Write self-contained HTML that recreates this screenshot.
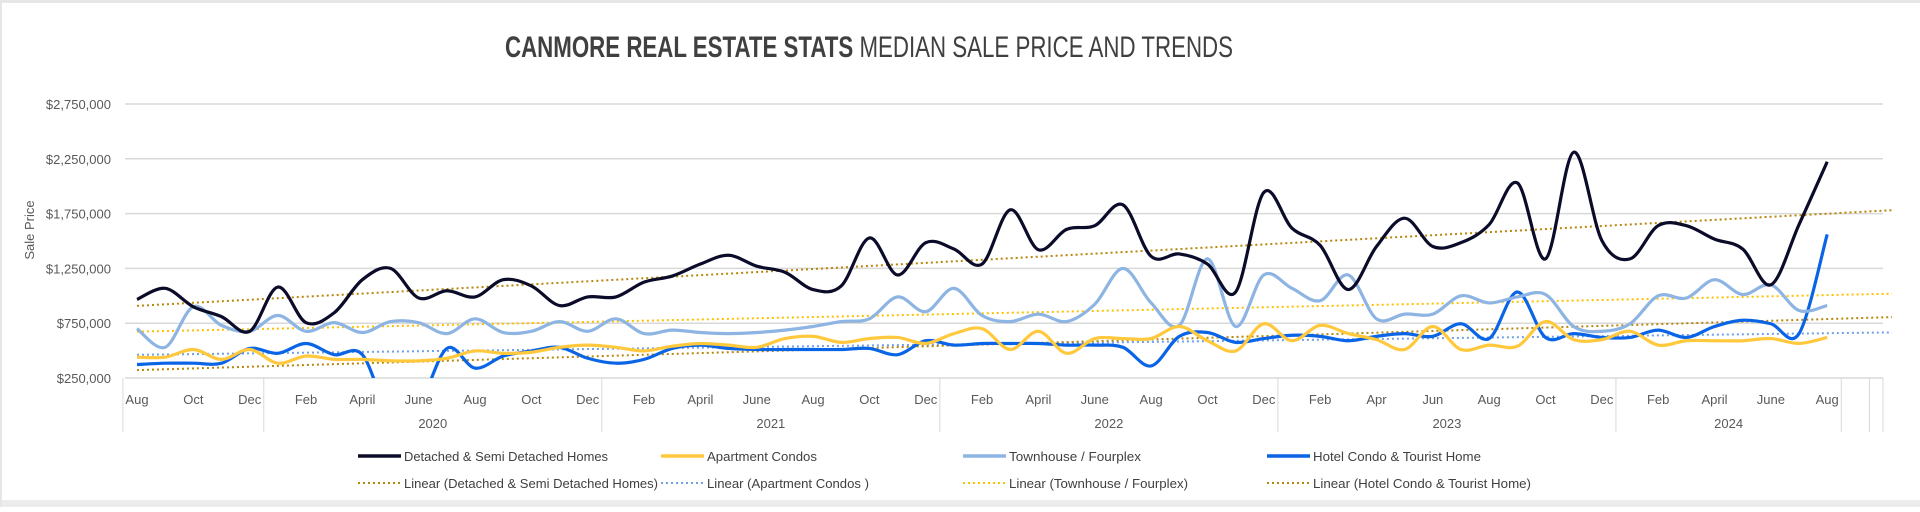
<!DOCTYPE html>
<html><head><meta charset="utf-8">
<style>
html,body{margin:0;padding:0;background:#fff;}
body{width:1920px;height:507px;overflow:hidden;font-family:"Liberation Sans",sans-serif;}
svg text{font-family:"Liberation Sans",sans-serif;}
</style></head>
<body>
<svg id="chart" width="1920" height="507" viewBox="0 0 1920 507" xmlns="http://www.w3.org/2000/svg">
<rect x="0" y="0" width="1920" height="507" fill="#fff"/>
<rect x="0" y="0" width="1920" height="3" fill="#e6e6e6"/>
<rect x="0" y="500" width="1920" height="7" fill="#ececec"/>
<rect x="0" y="0" width="2" height="507" fill="#e6e6e6"/>
<text x="869" y="57" text-anchor="middle" font-size="30" fill="#404040" textLength="728" lengthAdjust="spacingAndGlyphs"><tspan font-weight="bold">CANMORE REAL ESTATE STATS</tspan> MEDIAN SALE PRICE AND TRENDS</text>
<text transform="translate(34,230) rotate(-90)" text-anchor="middle" font-size="13" fill="#595959">Sale Price</text>
<g id="grid"></g><g id="yticks"></g><g id="xaxis"></g><g id="trends"></g><g id="series"></g><g id="legend"></g>
</svg>
<script>
const months = ["Aug","","Oct","","Dec","","Feb","","April","","June","","Aug","","Oct","","Dec","","Feb","","April","","June","","Aug","","Oct","","Dec","","Feb","","April","","June","","Aug","","Oct","","Dec","","Feb","","Apr","","Jun","","Aug","","Oct","","Dec","","Feb","","April","","June","","Aug"];
const years = ["2020","2021","2022","2023","2024"];
const yearCenters = [10.5,22.5,34.5,46.5,56.5];
const dividers = [-0.5,4.5,16.5,28.5,40.5,52.5,60.5,61.5];
const yTicks = [250000,750000,1250000,1750000,2250000,2750000];
const yTickLabels = ["$250,000","$750,000","$1,250,000","$1,750,000","$2,250,000","$2,750,000"];
const detached = [967,1068,900,810,676,1080,755,845,1147,1250,980,1046,990,1147,1090,911,990,990,1125,1180,1290,1370,1270,1215,1057,1090,1528,1190,1485,1427,1290,1785,1420,1606,1640,1830,1360,1382,1290,1035,1943,1617,1460,1057,1450,1708,1450,1485,1650,2030,1337,2310,1505,1337,1640,1640,1517,1427,1100,1650,2223];
const apartment = [440,440,510,420,510,385,450,420,420,407,407,430,497,475,485,530,550,530,497,540,565,550,530,610,630,575,610,620,565,655,700,510,676,475,610,610,610,720,590,497,745,590,730,655,600,510,720,510,550,540,765,600,600,676,550,590,590,590,610,565,620];
const townhouse = [700,530,900,730,676,820,676,755,665,765,755,655,790,665,676,765,676,790,655,687,665,655,665,687,720,765,790,990,855,1068,820,765,833,765,923,1250,935,730,1337,720,1190,1068,955,1190,790,833,833,1000,935,990,1012,720,676,745,1000,980,1147,1012,1100,866,911];
const hotel = [373,385,385,385,520,475,565,463,463,-100,0,520,340,450,497,530,430,385,420,520,550,520,510,510,510,510,520,463,590,550,565,565,565,550,550,530,360,630,665,575,610,640,630,590,630,655,630,745,610,1035,620,655,620,620,687,620,720,777,745,655,1560];

const svg=document.getElementById('chart');
const NS='http://www.w3.org/2000/svg';
const X0=137, DX=28.17, PL=125, PR=1883, YT=104, YB=378;
const xs=i=>X0+i*DX;
const ys=v=>YB-(v-250000)/2500000*(YB-YT);
function mk(tag,attrs,parent){const e=document.createElementNS(NS,tag);for(const k in attrs)e.setAttribute(k,attrs[k]);parent.appendChild(e);return e;}
const gGrid=document.getElementById('grid'),gY=document.getElementById('yticks'),gX=document.getElementById('xaxis');
yTicks.forEach((t,k)=>{
  const l=mk('line',{x1:PL,x2:PR,y1:ys(t),y2:ys(t),stroke:'#d9d9d9','stroke-width':1.5},gGrid);
  
  
  const tx=mk('text',{x:111,y:ys(t)+5,'text-anchor':'end','font-size':13,fill:'#595959'},gY);
  tx.textContent=yTickLabels[k];
  
  
});
dividers.forEach(d=>{
  const l=mk('line',{x1:xs(d),x2:xs(d),y1:YB,y2:432,stroke:'#d9d9d9','stroke-width':1},gX);
  
  
});
mk('line',{x1:PR,x2:PR,y1:YB,y2:432,stroke:'#d9d9d9','stroke-width':1},gX);
months.forEach((m,i)=>{ if(!m)return;
  const t=mk('text',{x:xs(i),y:404,'text-anchor':'middle','font-size':13,fill:'#595959'},gX);
  t.textContent=m;
  
  
});
years.forEach((y,k)=>{
  const t=mk('text',{x:xs(yearCenters[k]),y:428,'text-anchor':'middle','font-size':13,fill:'#595959'},gX);
  t.textContent=y;
  
  
});
function smooth(vals){
  const p=vals.map((v,i)=>[xs(i),ys(v*1000)]);
  let d='M'+p[0][0]+','+p[0][1];
  for(let i=0;i<p.length-1;i++){
    const p0=p[i-1]||p[i],p1=p[i],p2=p[i+1],p3=p[i+2]||p2;
    const c1=[p1[0]+(p2[0]-p0[0])/6,p1[1]+(p2[1]-p0[1])/6];
    const c2=[p2[0]-(p3[0]-p1[0])/6,p2[1]-(p3[1]-p1[1])/6];
    d+=' C'+c1[0]+','+c1[1]+' '+c2[0]+','+c2[1]+' '+p2[0]+','+p2[1];
  }
  return d;
}
function fit(vals){
  const n=vals.length;let sx=0,sy=0,sxx=0,sxy=0;
  vals.forEach((v,i)=>{sx+=i;sy+=v;sxx+=i*i;sxy+=i*v;});
  const b=(n*sxy-sx*sy)/(n*sxx-sx*sx),a=(sy-b*sx)/n;return [a,b];
}
const seriesList=[
 {vals:detached,color:'#0b0b2a',trend:'#b8860b',name:'detached'},
 {vals:apartment,color:'#ffc83d',trend:'#6fa0e8',name:'apartment'},
 {vals:townhouse,color:'#8db4e2',trend:'#ffc000',name:'townhouse'},
 {vals:hotel,color:'#0a64e6',trend:'#b8860b',name:'hotel'}];
const gT=document.getElementById('trends'),gS=document.getElementById('series');
const clip=mk('clipPath',{id:'plotclip'},svg);mk('rect',{x:PL,y:60,width:PR-PL,height:YB-60},clip);
gS.setAttribute('clip-path','url(#plotclip)');
seriesList.forEach(s=>{
  const [a,b]=fit(s.vals);const iEnd=62.3;
  const l=mk('line',{x1:xs(0),y1:ys(a*1000),x2:xs(iEnd),y2:ys((a+b*iEnd)*1000),stroke:s.trend,'stroke-width':2,'stroke-dasharray':'2 3'},gT);
  
  
});
[3,2,1,0].forEach(k=>{const s=seriesList[k];
  const p=mk('path',{d:smooth(s.vals),fill:'none',stroke:s.color,'stroke-width':3.2,'stroke-linejoin':'round'},gS);
  
  
});
const gL=document.getElementById('legend');
const legendItems=[
 [358,456,'#0b0b2a',false,'Detached & Semi Detached Homes',204],
 [661,456,'#ffc83d',false,'Apartment Condos',110],
 [963,456,'#8db4e2',false,'Townhouse / Fourplex',132],
 [1267,456,'#0a64e6',false,'Hotel Condo & Tourist Home',168],
 [358,483,'#b8860b',true,'Linear (Detached & Semi Detached Homes)',254],
 [661,483,'#6fa0e8',true,'Linear (Apartment Condos )',162],
 [963,483,'#ffc000',true,'Linear (Townhouse / Fourplex)',179],
 [1267,483,'#b8860b',true,'Linear (Hotel Condo & Tourist Home)',218]];
legendItems.forEach(it=>{
  const g=mk('g',{},gL);
  
  
  mk('line',{x1:it[0],x2:it[0]+43,y1:it[1],y2:it[1],stroke:it[2],'stroke-width':it[3]?2:3.5,'stroke-dasharray':it[3]?'2 3':'none'},g);
  const t=mk('text',{x:it[0]+46,y:it[1]+5,'font-size':13,fill:'#404040',textLength:it[5],lengthAdjust:'spacingAndGlyphs'},g);
  t.textContent=it[4];
});
</script>
</body></html>
